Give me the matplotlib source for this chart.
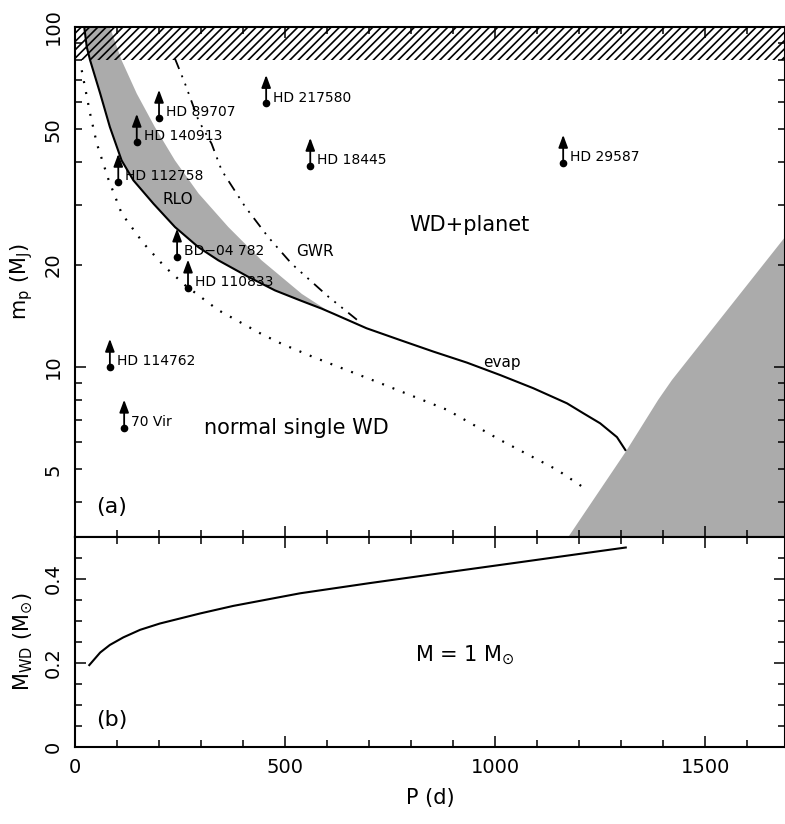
import numpy as np
import matplotlib.pyplot as plt
from matplotlib.ticker import FixedLocator, MultipleLocator, FuncFormatter

plt.rcParams['font.family'] = 'DejaVu Sans'
plt.rcParams['hatch.linewidth'] = 1.2
plt.rcParams['lines.scale_dashes'] = False

# limite inferior evap / RLO (linea continua)
p_evap = [22, 28, 36, 60, 83, 111, 139, 187, 238, 294, 341, 413, 476, 536, 587,
          615, 694, 774, 853, 933, 1012, 1091, 1171, 1210, 1250, 1290, 1310]
m_evap = [100, 87.3, 79.8, 63.7, 50.8, 40.5, 35.4, 30.2, 25.8, 22.5, 20.6, 18.4, 16.8, 15.7, 14.85,
          14.35, 13.0, 12.0, 11.1, 10.3, 9.47, 8.66, 7.82, 7.31, 6.83, 6.22, 5.70]
n_banda = 15  # puntos de la linea continua que cierran la banda RLO

# borde exterior de la banda RLO
p_rlo = [83, 111, 147, 190, 238, 294, 365, 444, 540, 603]
m_rlo = [100, 79.8, 63.7, 50.8, 40.5, 32.4, 25.8, 20.6, 16.4, 14.6]

# curva punteada
p_dot = [16, 36, 52, 79, 111, 163, 214, 262, 341, 444, 492, 567, 726, 886, 1012, 1148, 1219]
m_dot = [74.6, 55.6, 45.4, 35.8, 28.3, 23.1, 19.7, 17.4, 14.7, 12.5, 11.7, 10.7, 8.97, 7.48, 6.1, 4.98, 4.35]

# GWR
p_gwr = [238, 262, 294, 325, 349, 405, 460, 516, 603, 683]
m_gwr = [80.7, 68.1, 53.1, 45.4, 37.9, 29.6, 24.1, 20.1, 16.1, 13.4]

# region gris inferior derecha
p_gris = [1174, 1312, 1388, 1421, 1690]
m_gris = [3.16, 5.66, 8.0, 9.16, 24.1]

# planetas (limites inferiores)
nombres = ['HD 89707', 'HD 140913', 'HD 112758', 'BD\u221204 782', 'HD 110833',
           'HD 114762', '70 Vir', 'HD 217580', 'HD 18445', 'HD 29587']
p_pl = [200, 147, 103, 243, 269, 83, 117, 455, 560, 1162]
m_pl = [54, 45.9, 35.0, 21.1, 17.1, 10.0, 6.62, 59.7, 39.0, 39.8]

# masa de la enana blanca
p_wd = [34, 60, 83, 115, 155, 202, 298, 377, 536, 700, 893, 1052, 1210, 1311]
m_wd = [0.195, 0.225, 0.243, 0.261, 0.279, 0.294, 0.318, 0.336, 0.366, 0.390,
        0.417, 0.439, 0.461, 0.475]

xmax = 1690
ymin, ymax = 10**0.5, 100
gris = '#ababab'

fig = plt.figure(figsize=(7.85, 8.24), dpi=100)
ax1 = fig.add_axes([75/785, 287/824, 710/785, 510/824])
ax2 = fig.add_axes([75/785, 77/824, 710/785, 210/824])

# --- panel (a) ---
ax1.set_yscale('log')
ax1.set_xlim(0, xmax)
ax1.set_ylim(ymin, ymax)

banda_x = p_evap[:n_banda] + p_rlo[::-1]
banda_y = m_evap[:n_banda] + m_rlo[::-1]
ax1.fill(banda_x, banda_y, color=gris, lw=0, zorder=1)
ax1.fill(p_gris + [xmax + 100, xmax + 100], m_gris + [30, ymin], color=gris, lw=0, zorder=1)
ax1.fill_between([0, xmax], 80, 100, facecolor='none', edgecolor='k', hatch='////', lw=0, zorder=2)

ax1.plot(p_evap, m_evap, color='k', lw=1.5, zorder=3)
ax1.plot(p_dot, m_dot, color='k', lw=1.6, ls=(0, (1.4, 6.6)), zorder=3)
ax1.plot(p_gwr, m_gwr, color='k', lw=1.3,
         ls=(0, (8, 5, 1.4, 5, 1.4, 5, 1.4, 5)), zorder=3)

for nom, p, m in zip(nombres, p_pl, m_pl):
    ax1.plot(p, m, 'o', color='k', ms=4.5, zorder=4)
    ax1.annotate('', xy=(p, m * 1.21), xytext=(p, m),
                 arrowprops=dict(arrowstyle='-|>,head_length=0.75,head_width=0.28',
                                 color='k', lw=1.3, shrinkA=0, shrinkB=0), zorder=4)
    ax1.annotate(nom, xy=(p, m), xytext=(5, 4), textcoords='offset points',
                 ha='left', va='center', fontsize=10, zorder=5)

ax1.text(940, 26.1, 'WD+planet', fontsize=15, ha='center', va='center')
ax1.text(526, 6.62, 'normal single WD', fontsize=15, ha='center', va='center')
ax1.text(245, 31.0, 'RLO', fontsize=11, ha='center', va='center')
ax1.text(571, 21.8, 'GWR', fontsize=11, ha='center', va='center')
ax1.text(1017, 10.3, 'evap', fontsize=11, ha='center', va='center')
ax1.text(88, 3.87, '(a)', fontsize=16, ha='center', va='center')

ax1.yaxis.set_major_locator(FixedLocator([10, 100]))
ax1.yaxis.set_minor_locator(FixedLocator([4, 5, 6, 7, 8, 9, 20, 30, 40, 50, 60, 70, 80, 90]))
ax1.yaxis.set_major_formatter(FuncFormatter(lambda v, pos: f'{v:g}'))
ax1.yaxis.set_minor_formatter(FuncFormatter(lambda v, pos: f'{v:g}' if v in (5, 20, 50) else ''))
ax1.set_ylabel(r'm$_{\rm p}$ (M$_{\rm J}$)', fontsize=15, labelpad=6)
ax1.tick_params(labelbottom=False)

# --- panel (b) ---
ax2.set_xlim(0, xmax)
ax2.set_ylim(0, 0.5)
ax2.plot(p_wd, m_wd, color='k', lw=1.5)
ax2.text(88, 0.064, '(b)', fontsize=16, ha='center', va='center')
ax2.text(929, 0.219, r'M = 1 M$_{\odot}$', fontsize=15, ha='center', va='center')
ax2.yaxis.set_major_locator(FixedLocator([0, 0.2, 0.4]))
ax2.yaxis.set_minor_locator(MultipleLocator(0.05))
ax2.yaxis.set_major_formatter(FuncFormatter(lambda v, pos: f'{v:g}'))
ax2.set_ylabel(r'M$_{\rm WD}$ (M$_{\odot}$)', fontsize=15, labelpad=6)
ax2.set_xlabel('P (d)', fontsize=15, labelpad=8)

for ax in (ax1, ax2):
    ax.xaxis.set_major_locator(MultipleLocator(500))
    ax.xaxis.set_minor_locator(MultipleLocator(100))
    ax.tick_params(which='both', direction='in', top=True, right=True, labelsize=14)
    ax.tick_params(which='major', length=8, width=1.1)
    ax.tick_params(which='minor', length=5, width=1.1)
    ax.tick_params(axis='y', which='both', labelrotation=90, pad=9)
    ax.tick_params(axis='x', which='both', pad=8)
    for s in ax.spines.values():
        s.set_linewidth(1.5)
    for lab in ax.get_yticklabels(which='both'):
        lab.set_va('center')

fig.savefig('out.png', dpi=100)
